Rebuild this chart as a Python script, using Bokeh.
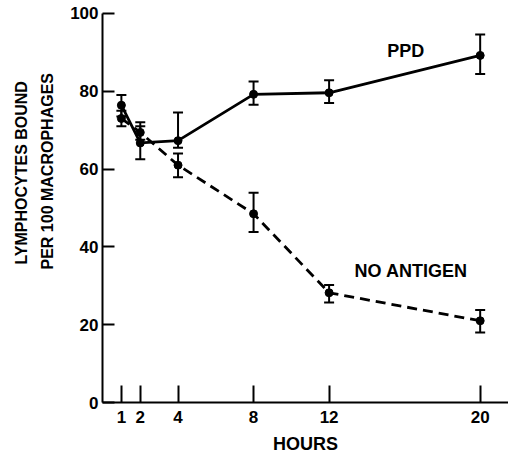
from bokeh.plotting import figure
from bokeh.models import ColumnDataSource, Whisker, TeeHead, FixedTicker, Label, Range1d, Title
from bokeh.embed import file_html
from bokeh.resources import INLINE

hours = [1, 2, 4, 8, 12, 20]
ppd_mean = [76.4, 66.7, 67.3, 79.2, 79.6, 89.2]
ppd_lower = [73.5, 62.5, 65.5, 76.5, 77.0, 84.4]
ppd_upper = [79.0, 72.0, 74.5, 82.5, 82.8, 94.6]
na_mean = [73.0, 69.4, 61.0, 48.5, 28.2, 21.0]
na_lower = [71.0, 67.5, 57.9, 43.8, 25.7, 18.0]
na_upper = [75.0, 71.0, 64.0, 53.9, 30.2, 23.8]
x_ticks = [1, 2, 4, 8, 12, 20]
y_ticks = [0, 20, 40, 60, 80, 100]

FONT = "Liberation Sans"

p = figure(width=508, height=456, x_range=Range1d(0, 21.5), y_range=Range1d(0, 101),
           output_backend="svg", toolbar_location=None,
           min_border_left=102, min_border_right=0, min_border_top=9, min_border_bottom=53)
p.outline_line_color = None
p.grid.visible = False
p.background_fill_color = "white"

for ax in (p.xaxis[0], p.yaxis[0]):
    ax.axis_line_width = 2
    ax.axis_line_color = "black"
    ax.major_tick_line_width = 2
    ax.major_tick_line_color = "black"
    ax.minor_tick_line_color = None
    ax.major_tick_out = 0
    ax.major_label_text_font = FONT
    ax.major_label_text_font_style = "bold"
    ax.major_label_text_font_size = "17px"
    ax.major_label_text_color = "black"
    ax.axis_label_text_font = FONT
    ax.axis_label_text_font_style = "bold"
    ax.axis_label_text_color = "black"

p.xaxis.ticker = FixedTicker(ticks=x_ticks)
p.xaxis.major_tick_in = 17
p.xaxis.major_label_standoff = 8
p.xaxis.bounds = (0, 21.5)
p.xaxis.axis_label = "HOURS"
p.xaxis.axis_label_text_font_size = "18px"
p.xaxis.axis_label_standoff = 8
p.yaxis.ticker = FixedTicker(ticks=y_ticks)
p.yaxis.major_tick_in = 12
p.yaxis.major_label_standoff = 4
p.yaxis.bounds = (0, 100)

ppd = ColumnDataSource(dict(x=hours, y=ppd_mean, lo=ppd_lower, hi=ppd_upper))
na = ColumnDataSource(dict(x=hours, y=na_mean, lo=na_lower, hi=na_upper))

for src in (ppd, na):
    w = Whisker(source=src, base="x", lower="lo", upper="hi", dimension="height",
                line_width=2, line_color="black",
                lower_head=TeeHead(size=10, line_width=2, line_color="black"),
                upper_head=TeeHead(size=10, line_width=2, line_color="black"))
    p.add_layout(w)

p.line("x", "y", source=ppd, line_width=2.8, line_color="black")
p.line("x", "y", source=na, line_width=2.8, line_color="black", line_dash="10 6")
p.scatter("x", "y", source=ppd, size=8, color="black")
p.scatter("x", "y", source=na, size=8, color="black")

p.add_layout(Label(x=16.06, y=90.3, text="PPD", text_font=FONT, text_font_style="bold",
                   text_font_size="18px", text_align="center", text_baseline="middle",
                   text_color="black"))
p.add_layout(Label(x=16.34, y=33.8, text="NO ANTIGEN", text_font=FONT, text_font_style="bold",
                   text_font_size="18px", text_align="center", text_baseline="middle",
                   text_color="black"))

t2 = Title(text="PER 100 MACROPHAGES", align="left", offset=133, standoff=23,
           text_font=FONT, text_font_style="bold", text_font_size="16px", text_color="black")
t1 = Title(text="LYMPHOCYTES BOUND", align="left", offset=138, standoff=-8,
           text_font=FONT, text_font_style="bold", text_font_size="16px", text_color="black")
p.add_layout(t2, "left")
p.add_layout(t1, "left")

open("out.html", "w").write(file_html(p, INLINE))
